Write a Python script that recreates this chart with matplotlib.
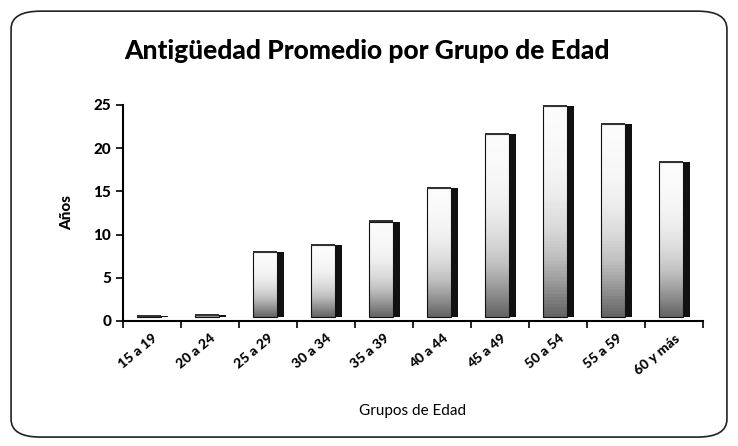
import numpy as np
import matplotlib.pyplot as plt
from matplotlib.patches import FancyBboxPatch

grupos = ['15 a 19', '20 a 24', '25 a 29', '30 a 34', '35 a 39',
          '40 a 44', '45 a 49', '50 a 54', '55 a 59', '60 y más']
antiguedad = [0.6, 0.7, 8.0, 8.8, 11.5, 15.4, 21.6, 24.9, 22.8, 18.4]

plt.rcParams['font.family'] = ['Lato', 'DejaVu Sans']

fig = plt.figure(figsize=(7.38, 4.46), dpi=100)
fig.patches.append(FancyBboxPatch((0.015, 0.02), 0.97, 0.955,
                                  boxstyle='round,pad=0,rounding_size=0.04',
                                  transform=fig.transFigure, fill=False,
                                  edgecolor='#222222', linewidth=1.2))

ax = fig.add_axes([0.1667, 0.2803, 0.786, 0.4843])
x = np.arange(len(grupos))
piso = 0.45
w = 0.42
grad = (np.linspace(0, 1, 64) ** 2).reshape(-1, 1)

front = ax.bar(x - 0.05, np.array(antiguedad) - piso, width=w, bottom=piso,
               facecolor='none', edgecolor='#111111', linewidth=0.8, zorder=3)
for b in front:
    x0, y0 = b.get_x(), b.get_y()
    im = ax.imshow(grad, cmap='Greys', vmin=-0.05, vmax=1.5, aspect='auto',
                   extent=[x0, x0 + b.get_width(), y0, y0 + b.get_height()],
                   origin='upper', zorder=2)
    im.set_clip_path(b)
# dark side face and cap
ax.bar(x - 0.05 + w / 2 + 0.055, np.array(antiguedad) - piso, width=0.11,
       bottom=piso, color='#111111', zorder=3)
ax.bar(x - 0.05, 0.25, width=w, bottom=np.array(antiguedad) - 0.1,
       color='#333333', zorder=4)

ax.set_xlim(-0.5, len(grupos) - 0.5)
ax.set_ylim(0, 25)
ax.set_yticks([0, 5, 10, 15, 20, 25])
ax.set_xticks(x)
ax.set_xticklabels(grupos, rotation=40, ha='right', rotation_mode='anchor',
                   fontsize=10, fontweight='black')
ax.set_xticks(np.arange(len(grupos) + 1) - 0.5, minor=True)
ax.tick_params(axis='x', which='major', length=0, pad=8)
ax.tick_params(axis='x', which='minor', length=5, width=1.2)
ax.tick_params(axis='y', length=5, width=1.2, labelsize=11)
for t in ax.get_yticklabels():
    t.set_fontweight('black')
for s in ['top', 'right']:
    ax.spines[s].set_visible(False)
ax.spines['left'].set_linewidth(1.5)
ax.spines['bottom'].set_linewidth(1.5)

ax.set_ylabel('Años', fontsize=11, fontweight='black', labelpad=14)
ax.set_xlabel('Grupos de Edad', fontsize=11, labelpad=20)
fig.text(0.497, 0.885, 'Antigüedad Promedio por Grupo de Edad',
         ha='center', va='center', fontsize=19, fontweight='black')

fig.savefig('out.png', dpi=100)
